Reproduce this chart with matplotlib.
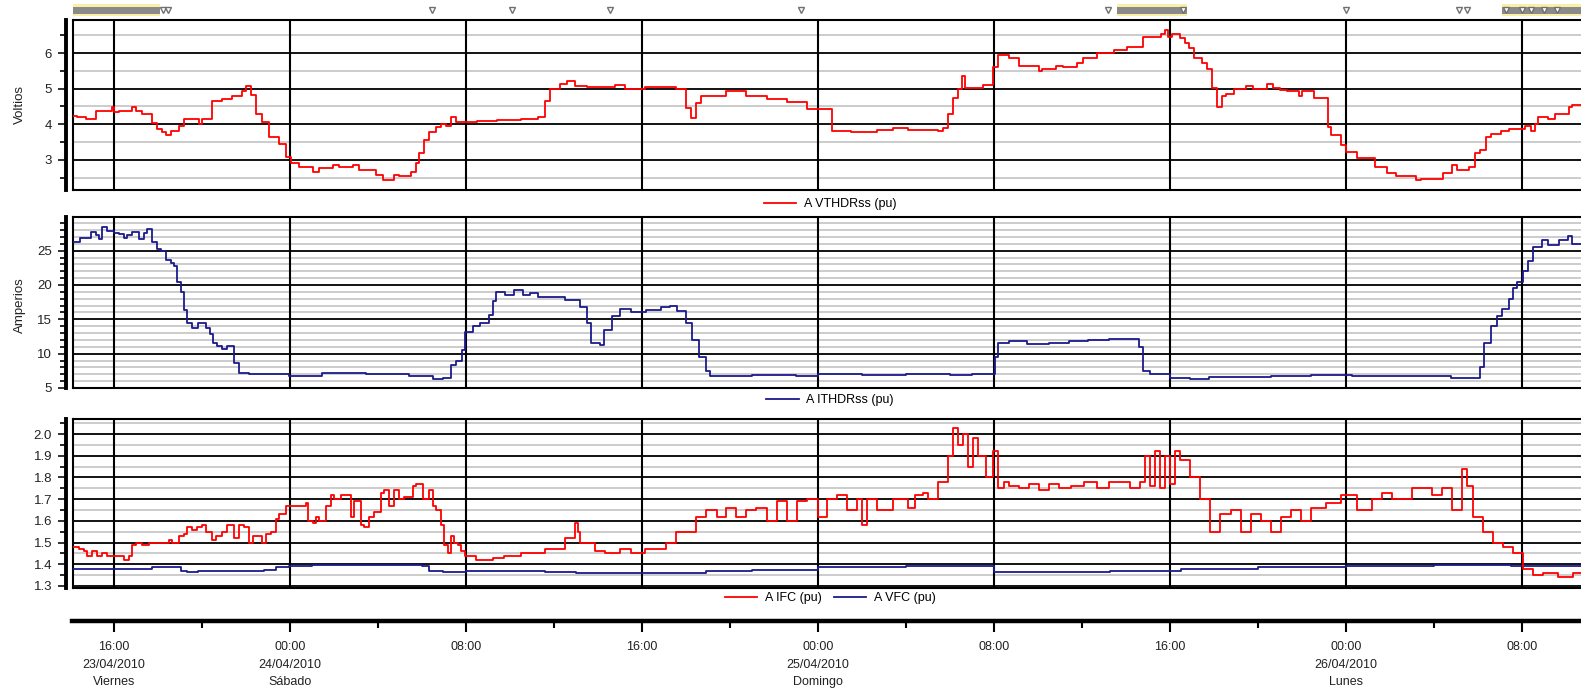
import matplotlib
matplotlib.use("Agg")
import matplotlib.pyplot as plt
from matplotlib.ticker import MultipleLocator, FormatStrFormatter, FixedLocator

plt.rcParams['font.family'] = ['Liberation Sans', 'DejaVu Sans']

# time in hours from 00:00 23/04/2010
x_min, x_max = 14.14, 82.69

# A VTHDRss (pu) -- Voltios
vthd_t = [14.09, 14.3, 14.71, 15.17, 15.92, 16.0, 16.23, 16.83, 16.99, 17.29, 17.75, 17.97, 18.2, 18.35,
          18.58, 18.96, 19.19, 19.87, 20.02, 20.48, 20.9, 21.39, 21.84, 21.99, 22.22, 22.45, 22.75, 23.06,
          23.51, 23.81, 24.04, 24.42, 25.03, 25.33, 25.94, 26.24, 26.85, 27.15, 27.91, 28.22, 28.75, 28.97,
          29.5, 29.73, 29.88, 30.11, 30.34, 30.64, 30.87, 31.1, 31.33, 31.55, 32.5, 33.4, 34.5, 35.3,
          35.58, 35.81, 36.27, 36.59, 36.95, 37.5, 38.79, 39.25, 40.16, 41.54, 42.0, 42.23, 42.46, 42.69,
          43.83, 44.75, 45.67, 46.58, 47.5, 48.65, 49.5, 50.71, 51.4, 52.09, 53.46, 53.7, 53.92, 54.15,
          54.38, 54.55, 54.7, 55.52, 55.98, 56.21, 56.67, 57.13, 58.04, 58.2, 58.83, 59.14, 59.76, 60.06,
          60.68, 61.45, 62.07, 62.77, 63.61, 63.77, 63.92, 64.08, 64.46, 64.69, 64.85, 65.08, 65.47, 65.7,
          65.93, 66.16, 66.39, 66.55, 66.93, 67.47, 67.78, 68.4, 68.71, 69.02, 69.32, 69.86, 70.02, 70.56,
          71.18, 71.33, 71.79, 72.02, 72.49, 73.34, 73.88, 74.26, 75.19, 75.42, 76.42, 76.81, 77.04, 77.58,
          77.89, 78.12, 78.35, 78.58, 79.05, 79.43, 80.13, 80.43, 80.59, 80.74, 81.21, 81.52, 82.13, 82.29,
          82.8]
vthd_v = [4.24, 4.2, 4.15, 4.38, 4.47, 4.33, 4.38, 4.47, 4.38, 4.3, 4.03, 3.87, 3.78, 3.69,
          3.82, 3.96, 4.15, 4.0, 4.15, 4.66, 4.7, 4.8, 4.93, 5.07, 4.81, 4.29, 4.06, 3.64,
          3.45, 3.08, 2.9, 2.8, 2.67, 2.76, 2.85, 2.8, 2.85, 2.71, 2.57, 2.44, 2.57, 2.53,
          2.67, 2.9, 3.18, 3.55, 3.78, 3.92, 4.0, 3.96, 4.19, 4.06, 4.1, 4.13, 4.16, 4.19,
          4.64, 5.0, 5.12, 5.22, 5.07, 5.05, 5.1, 5.0, 5.05, 5.0, 4.45, 4.18, 4.6, 4.8,
          4.92, 4.8, 4.72, 4.62, 4.42, 3.82, 3.78, 3.85, 3.9, 3.85, 3.8, 3.88, 4.3, 4.75,
          5.0, 5.35, 5.02, 5.1, 5.6, 5.95, 5.85, 5.65, 5.5, 5.55, 5.63, 5.6, 5.72, 5.86,
          6.0, 6.09, 6.16, 6.46, 6.55, 6.65, 6.46, 6.55, 6.42, 6.28, 6.14, 5.86, 5.72, 5.54,
          5.03, 4.47, 4.8, 4.84, 4.98, 5.07, 5.0, 5.14, 5.03, 4.95, 4.92, 4.8, 4.92, 4.75,
          3.92, 3.69, 3.41, 3.22, 3.04, 2.81, 2.62, 2.53, 2.44, 2.45, 2.62, 2.85, 2.71, 2.8,
          3.18, 3.27, 3.64, 3.73, 3.82, 3.87, 3.96, 3.8, 4.0, 4.19, 4.15, 4.29, 4.47, 4.55,
          4.55]

# A ITHDRss (pu) -- Amperios
ithd_t = [14.09, 14.48, 14.94, 15.17, 15.32, 15.47, 15.7, 16.0, 16.23, 16.46, 16.61, 16.83, 17.14, 17.37,
          17.52, 17.75, 17.97, 18.12, 18.35, 18.58, 18.73, 18.88, 19.03, 19.19, 19.34, 19.57, 19.82, 20.17,
          20.36, 20.51, 20.7, 20.93, 21.16, 21.46, 21.69, 22.15, 22.9, 23.97, 25.48, 27.46, 29.43, 30.49,
          30.95, 31.33, 31.55, 31.83, 31.98, 32.31, 32.62, 33.07, 33.22, 33.37, 33.8, 34.2, 34.6, 34.9,
          35.3, 35.8, 36.5, 37.2, 37.5, 37.7, 38.1, 38.3, 38.65, 39.0, 39.5, 40.2, 40.85, 41.3,
          41.6, 42.0, 42.3, 42.6, 42.9, 43.1, 45.0, 47.0, 48.0, 50.0, 52.0, 54.0, 55.0, 56.03,
          56.2, 56.67, 57.5, 58.5, 59.4, 60.3, 61.25, 62.6, 62.77, 63.1, 64.0, 64.9, 65.8, 68.6,
          70.4, 72.3, 75.0, 76.8, 78.0, 78.1, 78.3, 78.6, 78.85, 79.1, 79.4, 79.6, 79.8, 80.05,
          80.3, 80.5, 80.9, 81.2, 81.7, 82.1, 82.3, 82.8]
ithd_v = [26.3, 26.9, 27.7, 27.3, 26.7, 28.4, 27.8, 27.5, 27.4, 26.9, 27.3, 27.7, 26.7, 27.5,
          28.1, 26.2, 25.3, 25.0, 23.6, 23.2, 22.7, 20.5, 19.0, 16.3, 14.5, 13.7, 14.4, 13.7,
          12.9, 11.6, 11.1, 10.7, 11.1, 8.6, 7.2, 7.1, 7.0, 6.75, 7.2, 7.0, 6.7, 6.3,
          6.5, 8.3, 8.9, 10.6, 13.2, 14.1, 14.4, 15.6, 17.6, 19.0, 18.6, 19.2, 18.5, 18.8,
          18.2, 18.3, 17.8, 16.8, 14.5, 11.5, 11.2, 13.5, 15.5, 16.5, 16.0, 16.3, 16.8, 17.0,
          16.2, 14.5, 12.0, 9.5, 7.5, 6.8, 6.9, 6.8, 7.0, 6.9, 7.0, 6.9, 7.1, 9.5,
          11.5, 11.8, 11.4, 11.5, 11.8, 12.0, 12.2, 11.0, 7.5, 7.0, 6.5, 6.3, 6.6, 6.7,
          6.9, 6.8, 6.7, 6.5, 6.5, 8.0, 11.5, 14.0, 15.5, 16.5, 18.0, 19.5, 20.5, 22.0,
          23.5, 25.5, 26.5, 25.8, 26.5, 27.2, 26.0, 26.0]

# A IFC (pu)
ifc_t = [14.09, 14.41, 14.63, 14.79, 15.01, 15.24, 15.47, 15.7, 16.46, 16.68, 16.83, 16.99, 17.29, 17.59,
         18.5, 18.66, 18.96, 19.19, 19.34, 19.57, 19.79, 20.02, 20.17, 20.48, 20.63, 20.93, 21.16, 21.46,
         21.69, 21.92, 22.15, 22.3, 22.75, 22.9, 23.13, 23.36, 23.51, 23.81, 24.72, 24.8, 25.03, 25.18,
         25.33, 25.64, 25.86, 26.02, 26.32, 26.77, 26.93, 27.23, 27.38, 27.61, 27.84, 28.14, 28.29, 28.52,
         28.75, 28.97, 29.2, 29.58, 29.73, 30.03, 30.34, 30.49, 30.64, 30.87, 31.02, 31.17, 31.33, 31.48,
         31.63, 31.78, 31.98, 32.46, 33.22, 33.74, 34.5, 35.58, 36.5, 36.95, 37.09, 37.18, 37.87, 38.33,
         39.0, 39.5, 40.16, 41.08, 41.54, 42.46, 42.92, 43.4, 43.83, 44.29, 44.75, 45.21, 45.67, 46.12,
         46.58, 47.04, 47.5, 48.0, 48.42, 48.88, 49.33, 49.79, 50.02, 50.25, 50.71, 51.4, 52.09, 52.4,
         52.77, 53.0, 53.46, 53.92, 54.15, 54.38, 54.61, 54.84, 55.07, 55.29, 55.66, 55.98, 56.21, 56.44,
         56.67, 57.13, 57.6, 58.04, 58.5, 58.96, 59.5, 60.1, 60.7, 61.25, 62.17, 62.63, 62.86, 63.09,
         63.32, 63.55, 63.78, 64.0, 64.23, 64.46, 64.92, 65.38, 65.84, 66.3, 66.76, 67.22, 67.67, 68.13,
         68.59, 69.05, 69.51, 69.97, 70.42, 71.11, 71.8, 72.49, 73.18, 73.63, 74.09, 75.01, 75.93, 76.39,
         76.84, 77.3, 77.53, 77.76, 78.22, 78.67, 79.13, 79.59, 80.05, 80.5, 80.96, 81.65, 82.33, 82.8]
ifc_v = [1.48, 1.47, 1.46, 1.44, 1.46, 1.44, 1.45, 1.44, 1.42, 1.44, 1.49, 1.5, 1.49, 1.5,
         1.51, 1.5, 1.53, 1.54, 1.57, 1.56, 1.57, 1.58, 1.55, 1.51, 1.53, 1.55, 1.58, 1.52,
         1.58, 1.57, 1.5, 1.53, 1.5, 1.54, 1.55, 1.61, 1.63, 1.67, 1.68, 1.6, 1.59, 1.62,
         1.6, 1.67, 1.72, 1.7, 1.72, 1.62, 1.69, 1.58, 1.57, 1.62, 1.64, 1.73, 1.74, 1.67,
         1.74, 1.7, 1.71, 1.76, 1.77, 1.7, 1.74, 1.67, 1.65, 1.58, 1.49, 1.45, 1.53, 1.5,
         1.49, 1.46, 1.44, 1.42, 1.43, 1.44, 1.45, 1.47, 1.52, 1.59, 1.55, 1.5, 1.46, 1.45,
         1.47, 1.45, 1.47, 1.5, 1.55, 1.62, 1.65, 1.62, 1.66, 1.62, 1.65, 1.66, 1.6, 1.69,
         1.6, 1.69, 1.7, 1.62, 1.7, 1.72, 1.65, 1.7, 1.58, 1.7, 1.65, 1.7, 1.66, 1.72,
         1.73, 1.7, 1.78, 1.9, 2.03, 1.95, 2.0, 1.85, 1.98, 1.9, 1.8, 1.92, 1.75, 1.78,
         1.76, 1.75, 1.77, 1.74, 1.77, 1.75, 1.76, 1.78, 1.75, 1.78, 1.75, 1.78, 1.9, 1.76,
         1.92, 1.75, 1.9, 1.77, 1.92, 1.88, 1.8, 1.7, 1.55, 1.63, 1.65, 1.55, 1.63, 1.6,
         1.55, 1.62, 1.65, 1.6, 1.66, 1.68, 1.72, 1.65, 1.7, 1.73, 1.7, 1.75, 1.72, 1.75,
         1.65, 1.84, 1.76, 1.62, 1.55, 1.5, 1.48, 1.45, 1.38, 1.35, 1.36, 1.34, 1.36, 1.36]

# A VFC (pu)
vfc_t = [14.09, 17.75, 19.04, 19.34, 19.8, 22.8, 23.36, 23.97, 25.0, 30.0, 30.34, 30.95, 32.0, 35.6,
         37.0, 40.0, 42.9, 45.0, 48.0, 52.0, 56.0, 61.3, 64.5, 68.0, 72.0, 76.0, 79.5, 82.8]
vfc_v = [1.38, 1.385, 1.37, 1.365, 1.37, 1.375, 1.385, 1.39, 1.395, 1.39, 1.37, 1.365, 1.37, 1.365,
         1.36, 1.36, 1.37, 1.375, 1.385, 1.39, 1.365, 1.37, 1.38, 1.385, 1.39, 1.395, 1.39, 1.39]

# event marks along the top
event_t = [30.44, 34.1, 38.55, 47.25, 61.2, 72.0, 77.14, 77.5]
event_spans = [(14.14, 18.1), (61.6, 64.8), (79.1, 82.7)]
event_span_marks = [18.25, 18.45, 64.6, 79.3, 80.0, 80.4, 81.0, 81.6]

# time axis labels
major_t = [16, 24, 32, 40, 48, 56, 64, 72, 80]
major_lbl = ['16:00\n23/04/2010\nViernes', '00:00\n24/04/2010\nSábado', '08:00', '16:00',
             '00:00\n25/04/2010\nDomingo', '08:00', '16:00', '00:00\n26/04/2010\nLunes', '08:00']
minor_t = [20, 28, 36, 44, 52, 60, 68, 76]

RED = '#ff0000'
BLUE = '#1a1a8c'
W, H = 1581, 690
LEFT = 73
fig = plt.figure(figsize=(W / 100, H / 100), dpi=100)


def panel(top, bottom):
    ax = fig.add_axes([LEFT / W, 1 - bottom / H, (W - LEFT) / W, (bottom - top) / H])
    ax.set_xlim(x_min, x_max)
    ax.spines['right'].set_visible(False)
    ax.spines['top'].set_linewidth(1.5)
    ax.spines['bottom'].set_linewidth(1.5)
    ax.spines['left'].set_position(('outward', 5))
    ax.spines['left'].set_linewidth(2.8)
    ax.plot([0, 0], [0, 1], color='black', lw=1.5, transform=ax.transAxes, clip_on=False)
    ax.tick_params(axis='x', length=0, labelbottom=False)
    ax.tick_params(axis='y', which='major', length=6, width=1.3, labelsize=9.5, pad=4, colors='#222222')
    ax.tick_params(axis='y', which='minor', length=4, width=1.2)
    ax.grid(True, which='minor', axis='y', color='#c8c8c8', lw=1.3, zorder=0.5)
    ax.grid(True, which='major', axis='y', color='black', lw=1.3, zorder=0.6)
    for t in major_t:
        ax.axvline(t, color='black', lw=1.5, zorder=0.8)
    ax.set_axisbelow(True)
    return ax


ax1 = panel(20, 190)
ax1.step(vthd_t, vthd_v, where='post', color=RED, lw=1.3, label='A VTHDRss (pu)')
ax1.set_ylim(2.15, 6.93)
ax1.yaxis.set_major_locator(FixedLocator([3, 4, 5, 6]))
ax1.yaxis.set_minor_locator(MultipleLocator(0.5))

ax2 = panel(217, 388)
ax2.step(ithd_t, ithd_v, where='post', color=BLUE, lw=1.3, label='A ITHDRss (pu)')
ax2.set_ylim(5, 29.9)
ax2.yaxis.set_major_locator(FixedLocator([5, 10, 15, 20, 25]))
ax2.yaxis.set_minor_locator(MultipleLocator(1))

ax3 = panel(419, 588)
ax3.step(vfc_t, vfc_v, where='post', color=BLUE, lw=1.3, label='A VFC (pu)')
ax3.step(ifc_t, ifc_v, where='post', color=RED, lw=1.3, label='A IFC (pu)')
ax3.set_ylim(1.29, 2.07)
ax3.yaxis.set_major_locator(MultipleLocator(0.1))
ax3.yaxis.set_minor_locator(MultipleLocator(0.05))
ax3.yaxis.set_major_formatter(FormatStrFormatter('%.1f'))

fig.text(20 / W, 1 - 105 / H, 'Voltios', rotation=90, ha='center', va='center', fontsize=9.5, color='#222222')
fig.text(20 / W, 1 - 305 / H, 'Amperios', rotation=90, ha='center', va='center', fontsize=9.5, color='#222222')

leg_kw = dict(loc='center', frameon=False, fontsize=9, handlelength=2.6, handletextpad=0.6, columnspacing=1.0)
fig.legend(*ax1.get_legend_handles_labels(), bbox_to_anchor=(830 / W, 1 - 204 / H), **leg_kw)
fig.legend(*ax2.get_legend_handles_labels(), bbox_to_anchor=(830 / W, 1 - 400 / H), **leg_kw)
h3, l3 = ax3.get_legend_handles_labels()
fig.legend(h3[::-1], l3[::-1], ncol=2, bbox_to_anchor=(830 / W, 1 - 598 / H), **leg_kw)

# event strip
ax_e = fig.add_axes([LEFT / W, 1 - 20 / H, (W - LEFT) / W, 20 / H])
ax_e.set_xlim(x_min, x_max)
ax_e.set_ylim(0, 1)
ax_e.axis('off')
for a, b in event_spans:
    ax_e.axvspan(a, b, ymin=0.2, ymax=0.8, color='#f8efa8', lw=0)
    ax_e.axvspan(a, b, ymin=0.32, ymax=0.65, color='#8a8a8a', lw=0)
ax_e.plot(event_t + event_span_marks, [0.5] * (len(event_t) + len(event_span_marks)), 'v', ms=5,
          mfc='white', mec='#707070', mew=1.0, ls='none')

# time axis
ax_t = fig.add_axes([(LEFT - 1) / W, 1 - 621 / H, (W - LEFT + 1) / W, 0.01])
ax_t.set_xlim(x_min - 1 / 22, x_max)
for s in ['top', 'left', 'right']:
    ax_t.spines[s].set_visible(False)
ax_t.spines['bottom'].set_linewidth(3.2)
ax_t.set_yticks([])
ax_t.set_xticks(major_t)
ax_t.set_xticklabels(major_lbl, fontsize=9, linespacing=1.6, color='#222222')
ax_t.xaxis.set_minor_locator(FixedLocator(minor_t))
ax_t.tick_params(axis='x', which='major', length=8, width=1.5, pad=6.5)
ax_t.tick_params(axis='x', which='minor', length=5, width=1.5)

fig.savefig('out.png', dpi=100)
